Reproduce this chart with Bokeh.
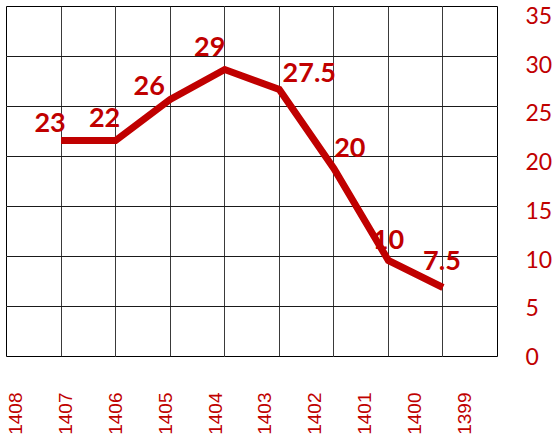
import math
from bokeh.plotting import figure
from bokeh.models import Range1d, LinearAxis, FixedTicker, Grid, ColumnDataSource
from bokeh.core.properties import value
from bokeh.embed import file_html
from bokeh.resources import INLINE

# ---- data ----
years = ["1408", "1407", "1406", "1405", "1404", "1403", "1402", "1401", "1400", "1399"]
values = [float("nan"), 21.6, 21.6, 25.7, 28.7, 26.7, 18.8, 9.6, 6.9, float("nan")]
point_labels = ["", "23", "22", "26", "29", "27.5", "20", "10", "7.5", ""]
y_ticks = [0, 5, 10, 15, 20, 25, 30, 35]

# ---- label placement (styling, pixels) ----
label_dx = [0, -11, -11, -21, -15, 30, 16, 0, -1, 0]
label_dy = [0, -18, -23, -14, -23, -17, -21, -21, -27, 0]

RED = "#C00000"
idx = list(range(len(years)))

src = ColumnDataSource(dict(i=idx, v=values, lbl=point_labels, dx=label_dx, dy=label_dy))

p = figure(width=555, height=437, output_backend="svg", toolbar_location=None,
           x_range=Range1d(0, len(years) - 1), y_range=Range1d(0, 35),
           x_axis_location=None, y_axis_location=None,
           min_border_left=6, min_border_right=0,
           min_border_top=6, min_border_bottom=4)
p.background_fill_color = "white"
p.border_fill_color = "white"
p.outline_line_color = "black"
p.outline_line_width = 1

# grids
p.add_layout(Grid(dimension=0, ticker=FixedTicker(ticks=idx),
                  grid_line_color="#3a3a3a", grid_line_width=1))
p.add_layout(Grid(dimension=1, ticker=FixedTicker(ticks=y_ticks),
                  grid_line_color="#1a1a1a", grid_line_width=1))

# right value axis (its own label spacing)
p.extra_y_ranges = {"ylbl": Range1d(0, 35.93)}
yax = LinearAxis(y_range_name="ylbl", ticker=FixedTicker(ticks=y_ticks))
yax.axis_line_color = None
yax.major_tick_line_color = None
yax.minor_tick_line_color = None
yax.major_tick_out = 0
yax.major_tick_in = 0
yax.major_label_standoff = 28
yax.major_label_text_color = RED
yax.major_label_text_font = "Lato"
yax.major_label_text_font_size = "23px"
yax.major_label_text_align = "center"
p.add_layout(yax, "right")

# bottom category label axis (own range)
p.extra_x_ranges = {"lbl": Range1d(-0.18, 9.66)}
xax = LinearAxis(x_range_name="lbl", ticker=FixedTicker(ticks=idx),
                 major_label_overrides={i: y for i, y in zip(idx, years)})
xax.axis_line_color = None
xax.major_tick_line_color = None
xax.minor_tick_line_color = None
xax.major_tick_out = 0
xax.major_tick_in = 0
xax.major_label_standoff = 36
xax.major_label_orientation = math.pi / 2
xax.major_label_text_color = RED
xax.major_label_text_font = "Liberation Sans"
xax.major_label_text_font_size = "19px"
p.add_layout(xax, "below")

p.line(x="i", y="v", source=src, line_color=RED, line_width=7,
       line_join="miter", line_cap="butt")

p.text(x="i", y="v", text="lbl", source=src, x_offset="dx", y_offset="dy",
       text_color=RED, text_font=value("Lato"), text_font_style="bold",
       text_font_size="27px", text_align="center", text_baseline="alphabetic")

open("out.html", "w").write(file_html(p, INLINE))
